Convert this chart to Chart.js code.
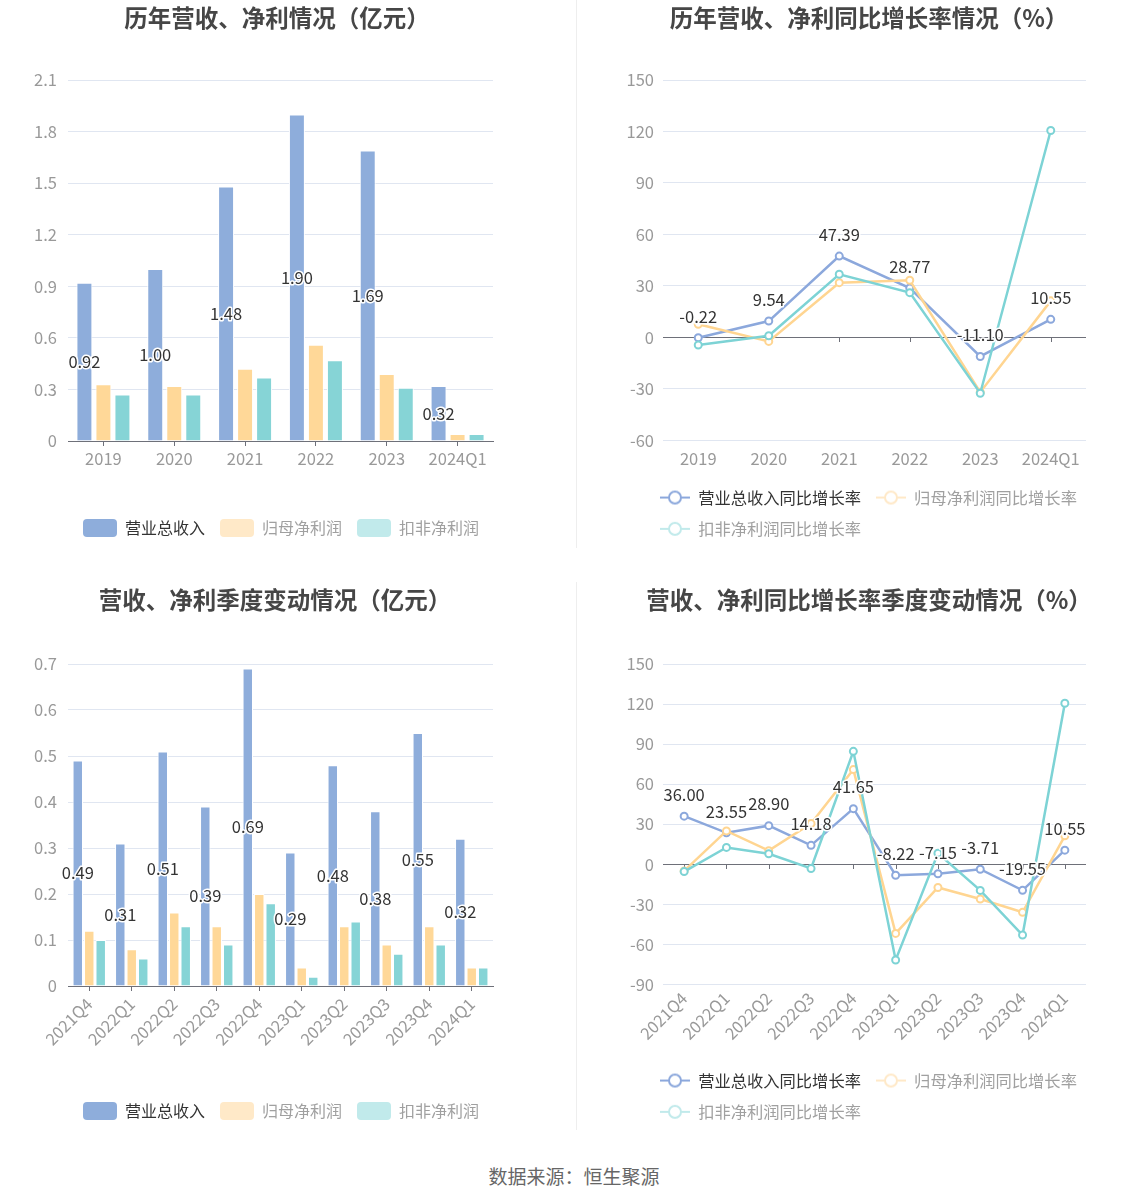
<!DOCTYPE html>
<html>
<head>
<meta charset="utf-8">
<script src="https://cdn.jsdelivr.net/npm/chart.js@4.4.1/dist/chart.umd.min.js"></script>
<style>
  body { margin: 0; background: #fff; }
  #wrap { position: relative; width: 1148px; height: 1202px; overflow: hidden; }
  canvas { position: absolute; }
  .divider { position: absolute; left: 576px; width: 1px; background: #eeeeee; }
  #source { position: absolute; left: 0; width: 1148px; top: 1162px; text-align: center;
    font: 19px "Noto Sans CJK SC", sans-serif; color: #666; }
</style>
</head>
<body>
<div id="wrap">
  <canvas id="c1" width="574" height="560" style="left:0;top:0"></canvas>
  <canvas id="c2" width="572" height="560" style="left:576px;top:0"></canvas>
  <canvas id="c3" width="574" height="560" style="left:0;top:583px"></canvas>
  <canvas id="c4" width="572" height="560" style="left:576px;top:583px"></canvas>
  <div class="divider" style="top:0;height:548px"></div>
  <div class="divider" style="top:582px;height:548px"></div>
  <div id="source">数据来源：恒生聚源</div>
</div>
<script>
// annual data
const years = ['2019', '2020', '2021', '2022', '2023', '2024Q1'];
const yearRevenue = [0.92, 1.00, 1.48, 1.90, 1.69, 0.32];
const yearNetProfit = [0.33, 0.32, 0.42, 0.56, 0.39, 0.04];
const yearDeductedProfit = [0.27, 0.27, 0.37, 0.47, 0.31, 0.04];
const yearRevenueGrowth = [-0.22, 9.54, 47.39, 28.77, -11.10, 10.55];
const yearNetProfitGrowth = [7.7, -2.3, 31.9, 33.3, -31.9, 21.3];
const yearDeductedGrowth = [-4.4, 1.0, 36.8, 26.1, -32.5, 120.6];

// quarterly data
const quarters = ['2021Q4', '2022Q1', '2022Q2', '2022Q3', '2022Q4', '2023Q1', '2023Q2', '2023Q3', '2023Q4', '2024Q1'];
const qRevenue = [0.49, 0.31, 0.51, 0.39, 0.69, 0.29, 0.48, 0.38, 0.55, 0.32];
const qNetProfit = [0.12, 0.08, 0.16, 0.13, 0.20, 0.04, 0.13, 0.09, 0.13, 0.04];
const qDeductedProfit = [0.10, 0.06, 0.13, 0.09, 0.18, 0.02, 0.14, 0.07, 0.09, 0.04];
const qRevenueGrowth = [36.00, 23.55, 28.90, 14.18, 41.65, -8.22, -7.15, -3.71, -19.55, 10.55];
const qNetProfitGrowth = [-5.0, 25.0, 10.2, 30.5, 70.9, -51.8, -17.4, -26.0, -36.0, 21.3];
const qDeductedGrowth = [-5.5, 12.6, 7.9, -3.2, 84.6, -71.7, 8.2, -19.6, -53.0, 120.6];

const barNames = ['营业总收入', '归母净利润', '扣非净利润'];
const lineNames = ['营业总收入同比增长率', '归母净利润同比增长率', '扣非净利润同比增长率'];

const barColors = ['#8EADDB', '#FFD898', '#86D4D6'];
const lineColors = ['#8CA8DC', '#FFD591', '#7DD3D5'];
const legendFaded = [null, '#FFE9C8', '#C1EAEB'];
const legendText = ['#333333', '#a0a0a0', '#a0a0a0'];

Chart.defaults.font.family = '"Noto Sans CJK SC", "Noto Sans", sans-serif';
Chart.defaults.animation = false;

// value labels on the first series, small ticks on the zero line,
// and a horizontal nudge of the title / legend blocks after layout
const valueLabels = {
  id: 'valueLabels',
  afterLayout(chart, args, opts) {
    if (opts.legendShift) {
      chart.legend.left += opts.legendShift;
      chart.legend.right += opts.legendShift;
    }
    if (opts.titleShift) {
      chart.titleBlock.left += opts.titleShift;
      chart.titleBlock.right += opts.titleShift;
    }
  },
  beforeDatasetsDraw(chart, args, opts) {
    if (!opts.zeroTicks) return;
    const ctx = chart.ctx, xs = chart.scales.x;
    const y0 = Math.round(chart.scales.y.getPixelForValue(0));
    ctx.save();
    ctx.strokeStyle = '#6E7079';
    ctx.lineWidth = 1;
    xs.ticks.forEach((t, i) => {
      const px = Math.round(xs.getPixelForTick(i)) + 0.5;
      ctx.beginPath();
      ctx.moveTo(px, y0);
      ctx.lineTo(px, y0 + 5);
      ctx.stroke();
    });
    ctx.restore();
  },
  afterDatasetsDraw(chart, args, opts) {
    const ctx = chart.ctx;
    const meta = chart.getDatasetMeta(0);
    const data = chart.data.datasets[0].data;
    ctx.save();
    ctx.font = '16.5px "Noto Sans CJK SC", sans-serif';
    ctx.textAlign = 'center';
    ctx.textBaseline = 'middle';
    ctx.lineJoin = 'round';
    ctx.lineWidth = 3;
    ctx.strokeStyle = '#fff';
    ctx.fillStyle = '#333';
    meta.data.forEach((el, i) => {
      const txt = data[i].toFixed(2);
      const y = opts.mode === 'bar' ? (el.y + el.base) / 2 : el.y - 21.5;
      ctx.strokeText(txt, el.x, y);
      ctx.fillText(txt, el.x, y);
    });
    ctx.restore();
  }
};

function lineIcon(color) {
  const c = document.createElement('canvas');
  c.width = 32; c.height = 16;
  const g = c.getContext('2d');
  g.strokeStyle = color;
  g.lineWidth = 2;
  g.beginPath(); g.moveTo(1, 8); g.lineTo(31, 8); g.stroke();
  g.beginPath(); g.arc(16, 8, 6, 0, Math.PI * 2);
  g.fillStyle = '#fff'; g.fill(); g.stroke();
  return c;
}

const tickFont = { size: 16.5 };
const fmt = v => String(Number(v.toFixed(2)));

function barChart(id, title, labels, series, cfg) {
  new Chart(document.getElementById(id), {
    type: 'bar',
    data: {
      labels: labels,
      datasets: series.map((d, i) => ({
        label: barNames[i], data: d, backgroundColor: barColors[i],
        borderColor: '#ffffff', borderWidth: 1,
        categoryPercentage: cfg.cat, barPercentage: cfg.bar
      }))
    },
    options: {
      responsive: false,
      layout: { padding: { left: 0, right: 81, top: 0, bottom: 13 } },
      scales: {
        x: {
          grid: { display: true, drawOnChartArea: false, offset: false, tickLength: 5, tickColor: '#6E7079' },
          border: { display: true, color: '#6E7079' },
          ticks: { color: '#999', font: tickFont, padding: 3, autoSkip: false,
            maxRotation: cfg.rot, minRotation: cfg.rot },
          afterFit: s => { s.height = cfg.xHeight; }
        },
        y: {
          min: 0, max: cfg.yMax,
          ticks: { stepSize: cfg.step, padding: 11, color: '#999', font: tickFont, callback: fmt },
          grid: { color: '#E0E6F1', drawTicks: false },
          border: { display: false },
          afterFit: s => { s.width = 68; }
        }
      },
      plugins: {
        title: { display: true, text: title, color: '#464646',
          font: { size: 23.5, weight: 'bold' }, padding: cfg.titlePad },
        legend: {
          position: 'bottom',
          labels: {
            boxWidth: 34, boxHeight: 18, useBorderRadius: true, borderRadius: 4,
            padding: 15, font: { size: 16 },
            generateLabels: () => barNames.map((n, i) => ({
              text: n, fillStyle: legendFaded[i] || barColors[i], strokeStyle: legendFaded[i] || barColors[i],
              lineWidth: 0, borderRadius: 4, fontColor: legendText[i], datasetIndex: i, hidden: false
            }))
          }
        },
        tooltip: { enabled: false },
        valueLabels: { mode: 'bar', legendShift: 34.5, titleShift: cfg.titleShift }
      }
    },
    plugins: [valueLabels]
  });
}

function lineChart(id, title, labels, series, cfg) {
  new Chart(document.getElementById(id), {
    type: 'line',
    data: {
      labels: labels,
      datasets: series.map((d, i) => ({
        label: lineNames[i], data: d, borderColor: lineColors[i], borderWidth: 2.5,
        pointRadius: 3.5, pointBorderWidth: 2, pointBackgroundColor: '#fff',
        pointBorderColor: lineColors[i], tension: 0, order: 3 - i
      }))
    },
    options: {
      responsive: false,
      layout: { padding: { left: 0, right: 62, top: 0, bottom: 13 } },
      scales: {
        x: {
          offset: true,
          grid: { display: false, drawTicks: false },
          border: { display: false },
          ticks: { color: '#999', font: tickFont, padding: cfg.xPad, autoSkip: false,
            maxRotation: cfg.rot, minRotation: cfg.rot },
          afterFit: s => { s.height = cfg.xHeight; }
        },
        y: {
          min: cfg.yMin, max: cfg.yMax,
          ticks: { stepSize: 30, padding: 9, color: '#999', font: tickFont, callback: fmt },
          grid: { color: c => (c.tick && c.tick.value === 0 ? '#6E7079' : '#E0E6F1'), drawTicks: false },
          border: { display: false },
          afterFit: s => { s.width = 87; }
        }
      },
      plugins: {
        title: { display: true, text: title, color: '#464646',
          font: { size: 23.5, weight: 'bold' }, padding: cfg.titlePad },
        legend: {
          position: 'bottom', align: 'start',
          labels: {
            usePointStyle: true, pointStyleWidth: 30, padding: 15, font: { size: 16.3 },
            generateLabels: () => lineNames.map((n, i) => ({
              text: n, fillStyle: '#fff', strokeStyle: legendFaded[i] || lineColors[i],
              lineWidth: 2, pointStyle: lineIcon(legendFaded[i] || lineColors[i]),
              fontColor: legendText[i], datasetIndex: i, hidden: false
            }))
          }
        },
        tooltip: { enabled: false },
        valueLabels: { mode: 'line', zeroTicks: true, legendShift: 69, titleShift: cfg.titleShift }
      }
    },
    plugins: [valueLabels]
  });
}

barChart('c1', '历年营收、净利情况（亿元）', years,
  [yearRevenue, yearNetProfit, yearDeductedProfit],
  { cat: 0.805, bar: 0.84, rot: 0, yMax: 2.1, step: 0.3, xHeight: 63, titleShift: 30.5,
    titlePad: { top: 3.7, bottom: 48.1 } });

lineChart('c2', '历年营收、净利同比增长率情况（%）', years,
  [yearRevenueGrowth, yearNetProfitGrowth, yearDeductedGrowth],
  { rot: 0, yMin: -60, yMax: 150, xHeight: 34, xPad: 8, titleShift: 38,
    titlePad: { top: 3.7, bottom: 48.1 } });

barChart('c3', '营收、净利季度变动情况（亿元）', quarters,
  [qRevenue, qNetProfit, qDeductedProfit],
  { cat: 0.81, bar: 0.91, rot: 45, yMax: 0.7, step: 0.1, xHeight: 101, titleShift: 28.5,
    titlePad: { top: 2.9, bottom: 49.9 } });

lineChart('c4', '营收、净利同比增长率季度变动情况（%）', quarters,
  [qRevenueGrowth, qNetProfitGrowth, qDeductedGrowth],
  { rot: 45, yMin: -90, yMax: 150, xHeight: 73, xPad: 4, titleShift: 38,
    titlePad: { top: 2.9, bottom: 49.9 } });
</script>
</body>
</html>
